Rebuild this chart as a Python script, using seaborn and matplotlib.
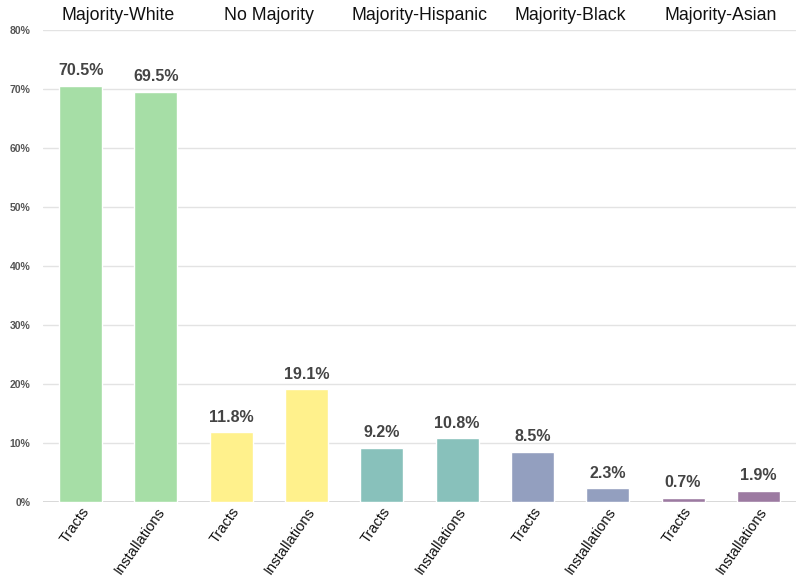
import pandas as pd
import matplotlib
matplotlib.use("Agg")
import matplotlib.pyplot as plt
import matplotlib.transforms as mtransforms
import seaborn as sns

# Chart data
groups = ["Majority-White", "No Majority", "Majority-Hispanic", "Majority-Black", "Majority-Asian"]
measures = ["Tracts", "Installations"]
tracts = [70.5, 11.8, 9.2, 8.5, 0.7]
installations = [69.5, 19.1, 10.8, 2.3, 1.9]
group_colors = ["#a6dea6", "#fff18c", "#88c1bb", "#939fbf", "#9c7aa1"]
y_ticks = [0, 10, 20, 30, 40, 50, 60, 70, 80]

rows = []
for g, t, i in zip(groups, tracts, installations):
    rows.append({"group": g, "measure": "Tracts", "value": t})
    rows.append({"group": g, "measure": "Installations", "value": i})
df = pd.DataFrame(rows)
df["slot"] = [f"{r.group}|{r.measure}" for r in df.itertuples()]
palette = {s: group_colors[groups.index(s.split("|")[0])] for s in df["slot"]}

sns.set_theme(style="white")
plt.rcParams["font.family"] = ["Liberation Sans", "DejaVu Sans"]

fig = plt.figure(figsize=(7.96, 5.85), dpi=100)
ax = fig.add_axes([0.054, 0.142, 0.946, 0.807])

sns.barplot(data=df, x="slot", y="value", hue="slot", palette=palette,
            width=0.57, legend=False, ax=ax, saturation=1)

ax.set_xlim(-0.5, len(df) - 0.5)
ax.set_ylim(0, 80)
ax.set_yticks(y_ticks)
ax.set_yticklabels([f"{v}%" for v in y_ticks], fontsize=7.5, fontweight="bold", color="#555555")
ax.yaxis.grid(True, color="#e3e3e3", linewidth=1)
ax.set_axisbelow(True)
ax.axhline(0, color="#d0d0d0", linewidth=1.2, zorder=0)
for s in ax.spines.values():
    s.set_visible(False)
ax.tick_params(axis="y", length=0, pad=9)

ax.set_xticks(range(len(df)))
ax.set_xticklabels(df["measure"], rotation=55, ha="right", rotation_mode="anchor",
                   fontsize=10.5, color="#111111")
ax.tick_params(axis="x", length=0, pad=2)
ax.set_xlabel("")
ax.set_ylabel("")

# value labels
for k, v in enumerate(df["value"]):
    ax.text(k, v + 1.3, f"{v:.1f}%", ha="center", va="bottom",
            fontsize=11.5, fontweight="bold", color="#444444")

# group headings above the plot
trans = mtransforms.blended_transform_factory(ax.transData, ax.transAxes)
for gi, g in enumerate(groups):
    ax.text(2 * gi + 0.5, 1.012, g, transform=trans, ha="center", va="bottom",
            fontsize=12.8, color="#111111")

fig.savefig("out.png", dpi=100)
